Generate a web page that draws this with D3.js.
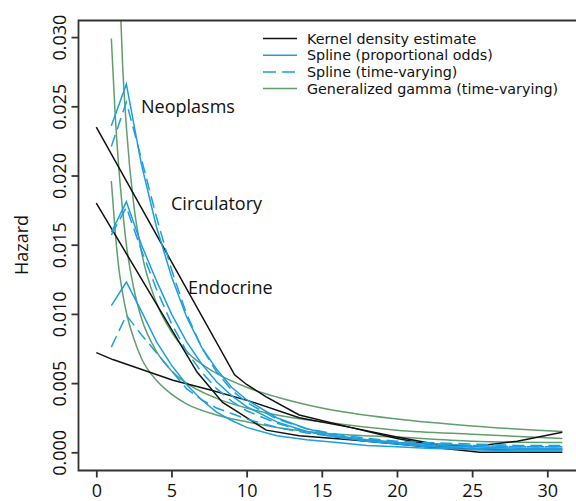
<!DOCTYPE html>
<html>
<head>
<meta charset="utf-8">
<script src="https://cdn.jsdelivr.net/npm/d3@7"></script>
<style>
  body { margin: 0; background: #fff; }
  svg text { font-family: "Open Sans", "Noto Sans", sans-serif; fill: #111; }
  svg .legend text { font-family: "DejaVu Sans", sans-serif; }
</style>
</head>
<body>
<svg id="chart"></svg>
<script>
// ---- data ----
let xTicks = [0, 5, 10, 15, 20, 25, 30]
let yTicks = [0, 0.005, 0.010, 0.015, 0.020, 0.025, 0.030]

// kernel density estimates (black)
let neoKdeT  = [0, 9.2, 10, 11.3, 13.5, 16.9, 20, 22.5, 25, 28, 31]
let neoKde   = [0.0235, 0.0056, 0.0049, 0.0040, 0.0027, 0.0018, 0.0011, 0.0006, 0.0004, 0.0008, 0.00145]
let circKdeT = [0, 6.7, 8.4, 9.3, 11.3, 13.5, 16.9, 20, 23, 25.5, 31]
let circKde  = [0.0180, 0.0058, 0.0036, 0.0030, 0.0016, 0.0012, 0.0009, 0.0006, 0.0003, 0.0000, 0.0000]
let endoKdeT = [0, 1.1, 5.1, 7.6, 10.2, 13.5, 16.9, 20, 23, 25, 28, 31]
let endoKde  = [0.0072, 0.0067, 0.0052, 0.0045, 0.0037, 0.0025, 0.0018, 0.0010, 0.0004, 0.0002, 0.0002, 0.0002]

// spline models (blue), evaluated at these times
let splineT = [1, 2, 3, 4, 5, 6, 7, 8, 9, 10, 12, 14, 16, 18, 20, 22, 25, 28, 31]
let neoPO   = [0.0236, 0.0266, 0.0208, 0.0163, 0.0127, 0.0098, 0.0076, 0.0060, 0.0047, 0.0038, 0.0025, 0.0017, 0.0012, 0.0009, 0.0007, 0.0005, 0.0004, 0.0003, 0.0003]
let neoTV   = [0.0221, 0.0253, 0.0212, 0.0170, 0.0132, 0.0100, 0.0076, 0.0058, 0.0045, 0.0036, 0.0024, 0.0017, 0.0013, 0.0010, 0.0008, 0.0007, 0.0006, 0.0005, 0.0005]
let circPO  = [0.0159, 0.0181, 0.0150, 0.0124, 0.0100, 0.0080, 0.0064, 0.0051, 0.0041, 0.0033, 0.0022, 0.0015, 0.0011, 0.0008, 0.0006, 0.0004, 0.0003, 0.0002, 0.0002]
let circTV  = [0.0157, 0.0177, 0.0146, 0.0118, 0.0093, 0.0073, 0.0058, 0.0046, 0.0037, 0.0030, 0.0021, 0.0015, 0.0011, 0.0009, 0.0007, 0.0006, 0.0005, 0.0004, 0.0004]
let endoPO  = [0.0106, 0.0123, 0.0102, 0.0080, 0.0063, 0.0049, 0.0038, 0.0029, 0.0023, 0.0018, 0.0012, 0.0009, 0.0007, 0.0005, 0.0004, 0.0003, 0.0002, 0.0001, 0.0001]
let endoTV  = [0.0076, 0.0099, 0.0085, 0.0072, 0.0059, 0.0046, 0.0038, 0.0032, 0.0028, 0.0024, 0.0018, 0.0014, 0.0011, 0.0009, 0.0007, 0.0006, 0.0005, 0.0004, 0.0004]

// generalized gamma (green)
let ggT    = [1, 1.25, 1.5, 1.75, 2, 2.5, 3, 4, 5, 6, 8, 10, 12, 15, 20, 25, 31]
let neoGG  = [0.062, 0.045, 0.035, 0.028, 0.0235, 0.0178, 0.0145, 0.0108, 0.0087, 0.0073, 0.0057, 0.0047, 0.0040, 0.0032, 0.0024, 0.0019, 0.0015]
let circGG = [0.0299, 0.0245, 0.0205, 0.0175, 0.0150, 0.0118, 0.0097, 0.0073, 0.0059, 0.0050, 0.0039, 0.0032, 0.0027, 0.0022, 0.0016, 0.0013, 0.0010]
let endoGG = [0.0196, 0.0160, 0.0133, 0.0115, 0.0101, 0.0082, 0.0068, 0.0052, 0.0042, 0.0035, 0.0027, 0.0022, 0.0018, 0.0014, 0.0011, 0.0008, 0.0007]

let legendLabels = ['Kernel density estimate', 'Spline (proportional odds)', 'Spline (time-varying)', 'Generalized gamma (time-varying)']
let causeLabels = ['Neoplasms', 'Circulatory', 'Endocrine']

// ---- layout ----
let width = 576
let height = 501
let black = '#111'
let blue = '#1c9fe0'
let green = '#5e9f6c'

let svg = d3.select('#chart').attr('width', width).attr('height', height)

let box = {left: 78.5, top: 20.5, right: 580, bottom: 470.5}

let xScale = d3.scaleLinear().domain([0, 30]).range([96.3, 547.3])
let yScale = d3.scaleLinear().domain([0, 0.03]).range([452.3, 37.1])

svg.append('clipPath').attr('id', 'plotclip')
   .append('rect')
   .attr('x', box.left).attr('y', box.top)
   .attr('width', box.right - box.left).attr('height', box.bottom - box.top)

let zip = (ts, ys) => ts.map((t, i) => [t, ys[i]])

let series = [
  {pts: zip(ggT, neoGG), color: green, dash: null, curve: d3.curveMonotoneX},
  {pts: zip(ggT, circGG), color: green, dash: null, curve: d3.curveMonotoneX},
  {pts: zip(ggT, endoGG), color: green, dash: null, curve: d3.curveMonotoneX},
  {pts: zip(neoKdeT, neoKde), color: black, dash: null, curve: d3.curveLinear},
  {pts: zip(circKdeT, circKde), color: black, dash: null, curve: d3.curveLinear},
  {pts: zip(endoKdeT, endoKde), color: black, dash: null, curve: d3.curveLinear},
  {pts: zip(splineT, neoTV), color: blue, dash: '12,6', curve: d3.curveLinear},
  {pts: zip(splineT, circTV), color: blue, dash: '12,6', curve: d3.curveLinear},
  {pts: zip(splineT, endoTV), color: blue, dash: '12,6', curve: d3.curveLinear},
  {pts: zip(splineT, neoPO), color: blue, dash: null, curve: d3.curveLinear},
  {pts: zip(splineT, circPO), color: blue, dash: null, curve: d3.curveLinear},
  {pts: zip(splineT, endoPO), color: blue, dash: null, curve: d3.curveLinear}
]

let plot = svg.append('g').attr('clip-path', 'url(#plotclip)')

series.forEach((s) => {
  let line = d3.line()
               .x((d) => xScale(d[0]))
               .y((d) => yScale(d[1]))
               .curve(s.curve)
  plot.append('path')
      .attr('d', line(s.pts))
      .attr('fill', 'none')
      .attr('stroke', s.color)
      .attr('stroke-width', 1.5)
      .attr('stroke-dasharray', s.dash)
})

/*box (right side runs off the picture)*/
svg.append('path')
   .attr('d', `M${box.right},${box.top}H${box.left}V${box.bottom}H${box.right}`)
   .attr('fill', 'none')
   .attr('stroke', '#333')
   .attr('stroke-width', 1.8)

/*axes*/
let xAxis = svg.append('g')
   .attr('transform', `translate(0,${box.bottom})`)
   .call(d3.axisBottom(xScale).tickValues(xTicks).tickSize(7).tickPadding(7).tickFormat(d3.format('d')))
xAxis.select('.domain').remove()
xAxis.selectAll('line').attr('stroke', '#333').attr('stroke-width', 1.8)
xAxis.selectAll('text').attr('font-size', 18).attr('fill', '#111')
     .style('font-family', '"Open Sans", sans-serif')

let yAxis = svg.append('g')
   .attr('transform', `translate(${box.left},0)`)
   .call(d3.axisLeft(yScale).tickValues(yTicks).tickSize(7).tickFormat(d3.format('.3f')))
yAxis.select('.domain').remove()
yAxis.selectAll('line').attr('stroke', '#333').attr('stroke-width', 1.8)
yAxis.selectAll('text')
     .attr('font-size', 18).attr('fill', '#111')
     .attr('x', null).attr('dy', null)
     .attr('text-anchor', 'middle')
     .attr('transform', 'translate(-13,0) rotate(-90)')
     .style('font-family', '"Open Sans", sans-serif')

svg.append('text')
   .attr('transform', `translate(28,${245}) rotate(-90)`)
   .attr('text-anchor', 'middle')
   .attr('font-size', 18)
   .text('Hazard')

/*cause labels*/
let labelPos = [[141, 113], [171, 210], [188, 294]]
causeLabels.forEach((txt, i) => {
  svg.append('text')
     .attr('x', labelPos[i][0]).attr('y', labelPos[i][1])
     .attr('font-size', 18)
     .text(txt)
})

/*legend*/
let legendColors = [black, blue, blue, green]
let legendDash = [null, null, '13,6', null]
let legend = svg.append('g').attr('class', 'legend').attr('transform', 'translate(263,38.5)')
legendLabels.forEach((txt, i) => {
  let row = legend.append('g').attr('transform', `translate(0,${i * 16.7})`)
  row.append('line')
     .attr('x1', 0).attr('x2', 34).attr('y1', 0).attr('y2', 0)
     .attr('stroke', legendColors[i])
     .attr('stroke-width', 1.5)
     .attr('stroke-dasharray', legendDash[i])
  row.append('text')
     .attr('x', 44).attr('y', 5)
     .attr('font-size', 14.3)
     .text(txt)
})
</script>
</body>
</html>
